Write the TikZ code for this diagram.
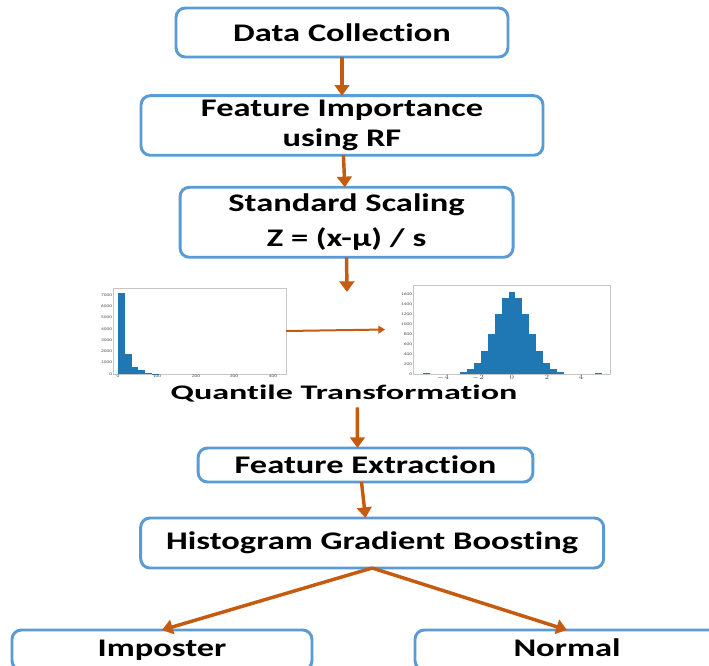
\documentclass[tikz,border=0pt]{standalone}
\usepackage{fontspec}
\setmainfont{Carlito}[FakeStretch=1.36, RawFeature=-liga]
\newfontfamily\qfont{Carlito}[FakeStretch=1.65, RawFeature=-liga]
\usepackage{tikz}
\usetikzlibrary{positioning}
\usetikzlibrary{arrows.meta}

\definecolor{boxblue}{HTML}{5B9BD5}
\definecolor{flowbrown}{HTML}{C55A11}
\definecolor{barblue}{HTML}{1F77B4}

\begin{document}
\begin{tikzpicture}[x=0.75pt, y=-0.75pt,
    stage/.style={draw=boxblue, line width=2.2pt, rounded corners=7pt, fill=white,
        outer sep=0pt, align=center, font=\bfseries\fontsize{19}{26}\selectfont},
    flow/.style={draw=flowbrown, line width=2.6pt, -{Triangle[width=11pt,length=8pt]}},
    thinflow/.style={draw=flowbrown, line width=1.5pt, -{Triangle[width=6pt,length=5pt]}},
    frame/.style={draw=gray!45, line width=0.6pt, inner sep=0pt, outer sep=0pt},
    tick/.style={font=\fontsize{3}{3}\selectfont, inner sep=0.5pt, text=black!70}]

    \useasboundingbox (0,0) rectangle (709,665);

    \node[stage, minimum width=249pt, minimum height=36.75pt] (dc) at (342,32.5) {Data Collection};
    \node[stage, minimum width=301.5pt, minimum height=44.25pt, below=29pt of dc,
        font=\bfseries\fontsize{19}{22.5}\selectfont] (fi) {Feature Importance\\using RF};
    \node[stage, minimum width=249.75pt, minimum height=52.5pt, below=24pt of fi, xshift=3.4pt] (ss) {Standard Scaling\\Z = (x-μ) / s};

    % histograms before and after the transformation
    \node[frame, minimum width=129.75pt, minimum height=64.5pt] (lplot) at (199.5,331) {};
    \node[frame, minimum width=147.75pt, minimum height=66.75pt] (rplot) at (511.5,329.5) {};

    \foreach \i/\h in {0/81,1/20,2/7,3/4,4/1,5/0.4}
        \fill[barblue] (118+6.8*\i,374) rectangle (118+6.8*\i+6.8,374-\h);
    \foreach \v/\p in {0/118,100/157,200/196,300/234,400/273}
        \node[tick, below] at (\p,374) {\v};
    \foreach \k in {0,...,7}
        \node[tick, left] at (113,374-11.3*\k) {\pgfmathparse{int(1000*\k)}\pgfmathresult};

    \foreach \k in {-7,...,7}{
        \pgfmathsetmacro\h{82.5*exp(-0.08*\k*\k)}
        \fill[barblue] (512+6.88*\k-3.44,374) rectangle (512+6.88*\k+3.44,374-\h);
    }
    \fill[barblue] (423,374) rectangle (430,373.4);
    \fill[barblue] (595,374) rectangle (602,373.4);
    \foreach \v/\p in {-4/443,-2/478,0/512,2/547,4/581}
        \node[tick, below] at (\p,374) {$\v$};
    \foreach \k in {0,...,8}
        \node[tick, left] at (413,374-10*\k) {\pgfmathparse{int(200*\k)}\pgfmathresult};

    \node[font=\qfont\bfseries\fontsize{15.5}{18}\selectfont] (qt) at (344,394) {Quantile Transformation};
    \coordinate (qin) at (347,292);

    \node[stage, minimum width=251pt, minimum height=25.5pt] (fe) at (365.5,465) {Feature Extraction};
    \node[stage, minimum width=347.25pt, minimum height=37.5pt, below=27pt of fe, xshift=5pt] (hgb) {Histogram Gradient Boosting};
    \node[stage, minimum width=225pt, minimum height=30pt, text height=13pt, text depth=4pt] (imp) at (162,650) {Imposter};
    \node[stage, minimum width=228pt, minimum height=30pt, text height=13pt, text depth=4pt] (nor) at (567,650) {Normal};

    \draw[flow] (dc) -- (fi);
    \draw[flow] (fi) -- (ss);
    \draw[flow] (ss.south) -- (qin);
    \draw[thinflow] (lplot.east) -- ([xshift=-21pt]rplot.west);
    \draw[flow] ([xshift=10pt]qt.south) -- ([xshift=-6pt]fe.north);
    \draw[flow] ([xshift=-3pt]fe.south) -- ([xshift=-5pt]hgb.north);
    \draw[flow] (hgb.south) -- (imp.north);
    \draw[flow] (hgb.south) -- (nor.north);
\end{tikzpicture}
\end{document}
